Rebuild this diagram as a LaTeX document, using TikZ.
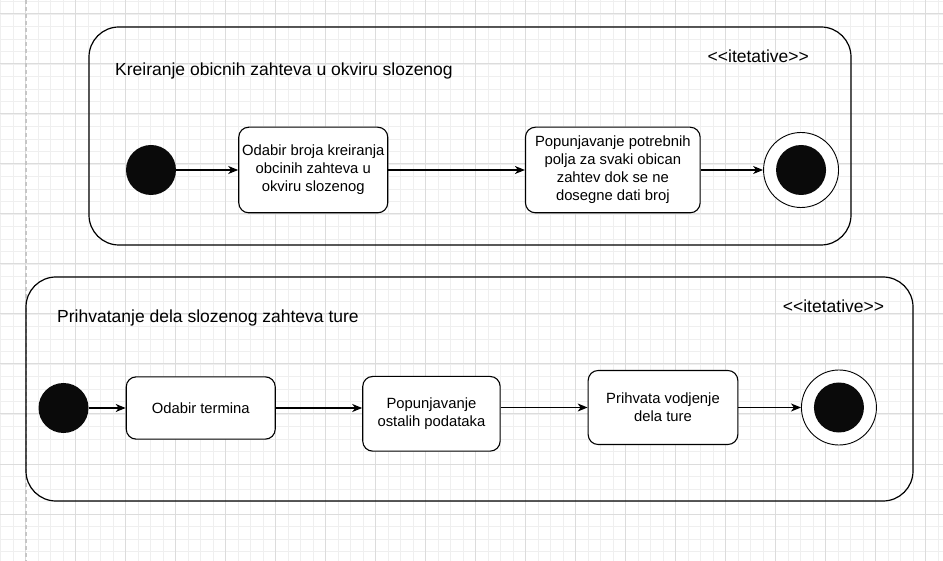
\documentclass[tikz,border=0pt]{standalone}
\usepackage{fontspec}
\setmainfont{Liberation Sans}[Ligatures=TeXOff]
\usetikzlibrary{arrows.meta,positioning,calc}

\definecolor{gridminor}{HTML}{EFEFEF}
\definecolor{gridmajor}{HTML}{DCDCDC}
\definecolor{dotfill}{HTML}{0A0A0A}

\begin{document}
\begin{tikzpicture}[x=1pt,y=-1pt,
    every node/.style={font=\fontsize{14.8}{18}\selectfont},
    act/.style={draw,rectangle,rounded corners=10pt,fill=white,line width=1.1pt,align=center,inner sep=2pt},
    start/.style={circle,fill=dotfill,minimum size=50pt,inner sep=0pt},
    finish/.style={circle,draw,fill=white,line width=0.9pt,minimum size=75pt,inner sep=0pt},
    frame/.style={draw,rounded corners=30pt,line width=1.2pt},
    title/.style={anchor=base west,inner sep=0pt,font=\fontsize{17.5}{21}\selectfont},
    flow/.style={-{Stealth[length=10pt,width=8pt,inset=3pt]},line width=1.1pt}]

      \useasboundingbox[fill=white] (0,0) rectangle (943,561);

      \foreach \x in {0.7,13.2,...,943} \draw[gridminor,line width=0.8pt] (\x,0) -- (\x,561);
      \foreach \y in {1.5,14,...,561} \draw[gridminor,line width=0.8pt] (0,\y) -- (943,\y);
      \foreach \x in {25.7,75.7,...,943} \draw[gridmajor,line width=1pt] (\x,0) -- (\x,561);
      \foreach \y in {14,64,...,561} \draw[gridmajor,line width=1pt] (0,\y) -- (943,\y);
      \draw[gray!45,line width=1.2pt,dash pattern=on 4pt off 3pt] (26,0) -- (26,561);

      \draw[frame] (89,27) rectangle (851,245);
      \draw[frame] (26,277) rectangle (913,501);

      \node[title] (t0) at (115,76) {Kreiranje obicnih zahteva u okviru slozenog};
      \node[title] (s0) at (707.5,62.5) {<<itetative>>};
      \node[title] (t1) at (57,322.3) {Prihvatanje dela slozenog zahteva ture};
      \node[title] (s1) at (782.7,312.5) {<<itetative>>};

      \node[start] (i0) at (151,170) {};
      \node[act,minimum width=149pt,minimum height=85.6pt,right=62pt of i0] (a0) {Odabir broja kreiranja\\obcinih zahteva u\\okviru slozenog};
      \node[act,minimum width=174.7pt,minimum height=85.6pt,right=136.6pt of a0] (a1) {Popunjavanje potrebnih\\polja za svaki obican\\zahtev dok se ne\\dosegne dati broj};
      \node[finish,right=62.4pt of a1] (f0) {};
      \node[start] (f0c) at (f0) {};

      \draw[flow] (i0)--(a0);
      \draw[flow] (a0)--(a1);
      \draw[flow] (a1)--(f0);

      \node[start] (i1) at (63.5,408) {};
      \node[act,minimum width=149pt,minimum height=62.3pt,right=37pt of i1] (b0) {Odabir termina};
      \node[act,minimum width=137.4pt,minimum height=74.7pt,right=86.4pt of b0,yshift=-5.8pt] (b1) {Popunjavanje\\ostalih podataka};
      \node[act,minimum width=149.7pt,minimum height=74pt,right=86.9pt of b1,yshift=6.3pt] (b2) {Prihvata vodjenje\\dela ture};
      \node[finish,right=62.6pt of b2] (f1) {};
      \node[start] (f1c) at (f1) {};

      \draw[flow] (i1)--(b0);
      \draw[flow] (b0)--(b0 -| b1.west);
      \draw[flow] (b1.east |- b2)--(b2);
      \draw[flow] (b2)--(f1);

\end{tikzpicture}
\end{document}
